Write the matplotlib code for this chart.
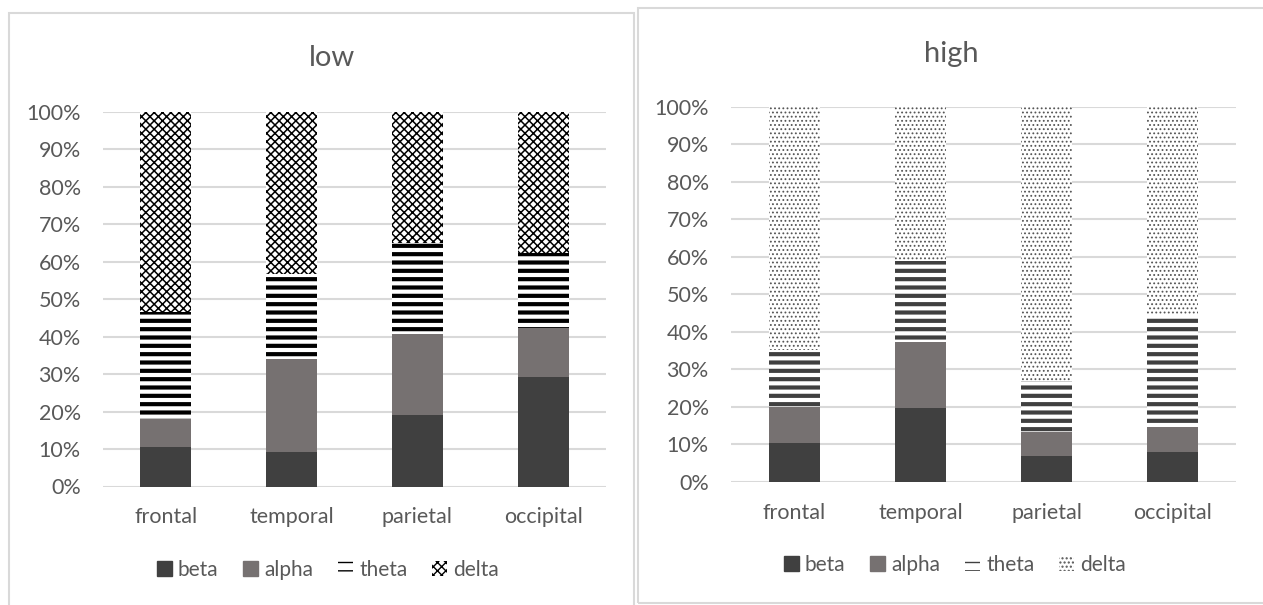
import matplotlib
matplotlib.use('Agg')
import matplotlib.pyplot as plt
from matplotlib.patches import Rectangle, Patch
from matplotlib.ticker import PercentFormatter
import numpy as np

categories = ['frontal', 'temporal', 'parietal', 'occipital']
bands = ['beta', 'alpha', 'theta', 'delta']

# percent share of each band
low_beta = [10.5, 9.2, 19.2, 29.1]
low_alpha = [7.6, 24.7, 21.6, 13.2]
low_theta = [28.5, 22.8, 24.1, 20.1]
low_delta = [53.4, 43.3, 35.1, 37.6]

high_beta = [10.2, 19.6, 6.9, 7.8]
high_alpha = [9.8, 17.7, 6.4, 6.7]
high_theta = [15.1, 21.6, 13.6, 30.0]
high_delta = [64.9, 41.1, 73.1, 55.5]

W, H = 1263, 605
TXT = '#595959'
GRID = '#d9d9d9'

plt.rcParams['font.family'] = ['Lato', 'DejaVu Sans']

fig = plt.figure(figsize=(W / 100, H / 100), dpi=100)

# chart borders
fig.patches.append(Rectangle((9 / W, 1 - 640 / H), 625 / W, 627 / H, transform=fig.transFigure,
                             fill=False, edgecolor=GRID, linewidth=1.5, zorder=0))
fig.patches.append(Rectangle((638 / W, 1 - 603 / H), 640 / W, 595 / H, transform=fig.transFigure,
                             fill=False, edgecolor=GRID, linewidth=1.5, zorder=0))


def draw_panel(rect, title, title_xy, legend_xy, series, theta_col, delta_hatch, delta_col, delta_lw):
    ax = fig.add_axes(rect)
    ax.set_zorder(2)
    ax.patch.set_alpha(0)
    x = np.arange(len(categories))
    bottom = np.zeros(len(categories))
    styles = [
        dict(color='#404040'),
        dict(color='#767171'),
        dict(facecolor='white', edgecolor=theta_col, hatch='--', linewidth=0),
        dict(facecolor='white', edgecolor=delta_col, hatch=delta_hatch, linewidth=0),
    ]
    hatch_lw = [1, 1, 3.0, delta_lw]
    handles = []
    for vals, st, hlw, name in zip(series, styles, hatch_lw, bands):
        with plt.rc_context({'hatch.linewidth': hlw}):
            bars = ax.bar(x, vals, 0.405, bottom=bottom, zorder=2, **st)
            for b in bars:
                if hasattr(b, 'set_hatch_linewidth'):
                    b.set_hatch_linewidth(hlw)
            h = Patch(label=name, **st)
            if hasattr(h, 'set_hatch_linewidth'):
                h.set_hatch_linewidth(hlw)
        handles.append(h)
        bottom += np.array(vals)

    ax.set_xlim(-0.5, 3.5)
    ax.set_ylim(0, 100)
    ax.set_yticks(np.arange(0, 101, 10))
    ax.yaxis.set_major_formatter(PercentFormatter(decimals=0))
    ax.set_xticks(x)
    ax.set_xticklabels(categories)
    ax.tick_params(length=0, labelsize=15.5, labelcolor=TXT)
    ax.tick_params(axis='x', pad=15)
    ax.tick_params(axis='y', pad=16)
    for s in ax.spines.values():
        s.set_visible(False)
    ax.grid(axis='y', color=GRID, linewidth=1.5, zorder=0)
    ax.set_axisbelow(True)

    fig.text(title_xy[0] / W, 1 - title_xy[1] / H, title, ha='center', va='center',
             fontsize=21, color=TXT)
    fig.legend(handles=handles, loc='center', bbox_to_anchor=(legend_xy[0] / W, 1 - legend_xy[1] / H),
               ncol=4, frameon=False, fontsize=15, labelcolor=TXT, handlelength=0.7,
               handleheight=0.7, handletextpad=0.3, columnspacing=1.2)
    return ax


draw_panel([103 / W, 118.5 / H, 503 / W, 374.8 / H], 'low', (332, 58), (328, 570),
           [low_beta, low_alpha, low_theta, low_delta], 'black', 'xxxx', 'black', 1.1)
draw_panel([731 / W, 123.3 / H, 505 / W, 375 / H], 'high', (951, 54), (955, 565),
           [high_beta, high_alpha, high_theta, high_delta], '#404040', '....', '#555555', 0.8)

fig.savefig('out.png', dpi=100)
